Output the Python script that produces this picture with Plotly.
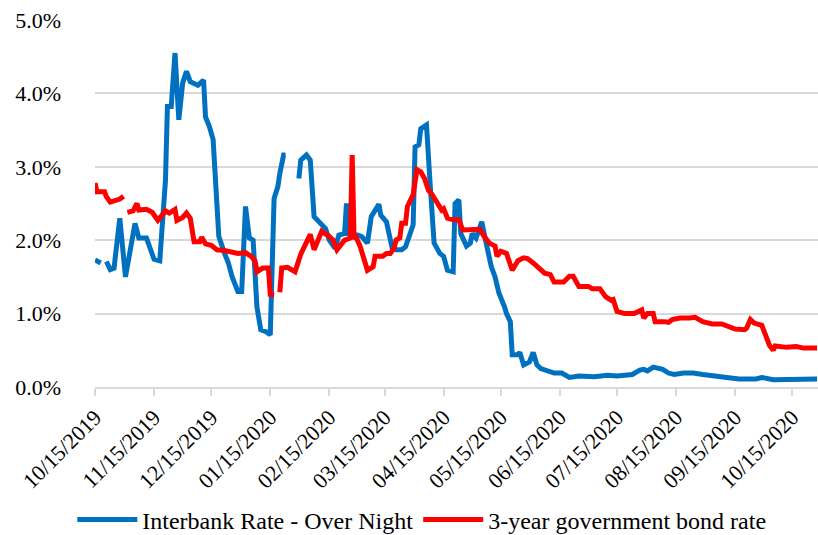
import plotly.graph_objects as go

interbank_dates = [
    "2019-10-15", "2019-10-18", "2019-10-20", "2019-10-21", "2019-10-23", "2019-10-25", "2019-10-28",
    "2019-10-31", "2019-11-02", "2019-11-05", "2019-11-07", "2019-11-11", "2019-11-15", "2019-11-18",
    "2019-11-21", "2019-11-22", "2019-11-24", "2019-11-26", "2019-11-28", "2019-11-30", "2019-12-02",
    "2019-12-04", "2019-12-08", "2019-12-11", "2019-12-12", "2019-12-14", "2019-12-16", "2019-12-19",
    "2019-12-22", "2019-12-24", "2019-12-26", "2019-12-29", "2019-12-31", "2020-01-02", "2020-01-04",
    "2020-01-06", "2020-01-08", "2020-01-10", "2020-01-13", "2020-01-15", "2020-01-17", "2020-01-19",
    "2020-01-20", "2020-01-22", "2020-01-23", "2020-01-26", "2020-01-30", "2020-01-31", "2020-02-03",
    "2020-02-05", "2020-02-07", "2020-02-11", "2020-02-13", "2020-02-15", "2020-02-18", "2020-02-20",
    "2020-02-23", "2020-02-24", "2020-02-25", "2020-03-01", "2020-03-03", "2020-03-06", "2020-03-08",
    "2020-03-12", "2020-03-13", "2020-03-16", "2020-03-19", "2020-03-21", "2020-03-24", "2020-03-26",
    "2020-03-28", "2020-03-30", "2020-03-31", "2020-04-02", "2020-04-03", "2020-04-06", "2020-04-08",
    "2020-04-10", "2020-04-13", "2020-04-15", "2020-04-17", "2020-04-20", "2020-04-21", "2020-04-23",
    "2020-04-24", "2020-04-27", "2020-04-29", "2020-04-30", "2020-05-02", "2020-05-05", "2020-05-07",
    "2020-05-10", "2020-05-12", "2020-05-14", "2020-05-17", "2020-05-18", "2020-05-20", "2020-05-21",
    "2020-05-24", "2020-05-25", "2020-05-27", "2020-05-30", "2020-06-01", "2020-06-03", "2020-06-05",
    "2020-06-08", "2020-06-12", "2020-06-16", "2020-06-20", "2020-06-25", "2020-06-28", "2020-07-03",
    "2020-07-10", "2020-07-15", "2020-07-23", "2020-07-27", "2020-07-29", "2020-07-31", "2020-08-03",
    "2020-08-08", "2020-08-11", "2020-08-14", "2020-08-19", "2020-08-24", "2020-08-29", "2020-09-05",
    "2020-09-14", "2020-09-17", "2020-09-26", "2020-09-29", "2020-10-05", "2020-10-14", "2020-10-21",
    "2020-10-28",
]
interbank_values = [
    1.73, 1.69, None, 1.71, 1.60, 1.62, 2.30,
    1.50, 1.78, 2.23, 2.03, 2.03, 1.74, 1.72,
    2.82, 3.82, 3.82, 4.55, 3.64, 4.14, 4.30,
    4.16, 4.11, 4.18, 3.68, 3.55, 3.37, 2.05,
    1.82, 1.69, 1.50, 1.30, 1.30, 2.46, 2.03,
    2.00, 1.09, 0.78, 0.75, 0.71, 2.57, 2.73,
    2.91, 3.16, 3.16, None, 2.84, 3.09, 3.16,
    3.09, 2.32, 2.21, 2.16, 2.00, 1.89, 2.07,
    2.09, 2.50, 2.09, 2.07, 2.05, 1.96, 2.32,
    2.49, 2.34, 2.25, 1.89, 1.87, 1.87, 1.91,
    2.09, 2.21, 3.27, 3.30, 3.52, 3.57, 2.73,
    1.96, 1.82, 1.78, 1.59, 1.57, 2.50, 2.55,
    2.09, 1.92, 1.96, 2.09, 2.03, 2.25, 2.00,
    1.64, 1.50, 1.28, 1.09, 1.00, 0.89, 0.44,
    0.44, 0.47, 0.30, 0.34, 0.47, 0.30, 0.25,
    0.23, 0.19, 0.19, 0.13, 0.15, 0.14, 0.14,
    0.16, 0.15, 0.17, 0.23, 0.24, 0.22, 0.27,
    0.24, 0.19, 0.17, 0.19, 0.19, 0.17, 0.15,
    0.13, 0.11, 0.11, 0.13, 0.10, 0.10, 0.10,
    0.11,
]

bond_dates = [
    "2019-10-15", "2019-10-16", "2019-10-20", "2019-10-21", "2019-10-23", "2019-10-26", "2019-10-28",
    "2019-10-30", "2019-10-31", "2019-11-01", "2019-11-04", "2019-11-06", "2019-11-07", "2019-11-11",
    "2019-11-14", "2019-11-17", "2019-11-21", "2019-11-23", "2019-11-26", "2019-11-27", "2019-11-30",
    "2019-12-02", "2019-12-04", "2019-12-06", "2019-12-09", "2019-12-10", "2019-12-12", "2019-12-15",
    "2019-12-18", "2019-12-22", "2019-12-26", "2019-12-29", "2020-01-02", "2020-01-05", "2020-01-07",
    "2020-01-08", "2020-01-11", "2020-01-14", "2020-01-15", "2020-01-17", "2020-01-18", "2020-01-20",
    "2020-01-21", "2020-01-24", "2020-01-28", "2020-01-31", "2020-02-03", "2020-02-05", "2020-02-07",
    "2020-02-09", "2020-02-11", "2020-02-15", "2020-02-17", "2020-02-19", "2020-02-21", "2020-02-23",
    "2020-02-26", "2020-02-27", "2020-02-28", "2020-02-29", "2020-03-02", "2020-03-04", "2020-03-06",
    "2020-03-09", "2020-03-10", "2020-03-14", "2020-03-16", "2020-03-18", "2020-03-20", "2020-03-21",
    "2020-03-23", "2020-03-24", "2020-03-26", "2020-03-27", "2020-03-29", "2020-03-30", "2020-04-01",
    "2020-04-03", "2020-04-05", "2020-04-07", "2020-04-09", "2020-04-12", "2020-04-14", "2020-04-15",
    "2020-04-17", "2020-04-20", "2020-04-23", "2020-04-25", "2020-04-27", "2020-05-01", "2020-05-04",
    "2020-05-06", "2020-05-09", "2020-05-12", "2020-05-13", "2020-05-15", "2020-05-18", "2020-05-21",
    "2020-05-24", "2020-05-27", "2020-05-29", "2020-06-01", "2020-06-05", "2020-06-07", "2020-06-10",
    "2020-06-12", "2020-06-17", "2020-06-20", "2020-06-22", "2020-06-24", "2020-06-25", "2020-06-30",
    "2020-07-02", "2020-07-06", "2020-07-09", "2020-07-12", "2020-07-13", "2020-07-15", "2020-07-19",
    "2020-07-24", "2020-07-28", "2020-07-29", "2020-07-31", "2020-08-03", "2020-08-04", "2020-08-09",
    "2020-08-11", "2020-08-13", "2020-08-17", "2020-08-22", "2020-08-25", "2020-08-29", "2020-09-03",
    "2020-09-08", "2020-09-12", "2020-09-15", "2020-09-20", "2020-09-21", "2020-09-23", "2020-09-25",
    "2020-09-29", "2020-10-01", "2020-10-03", "2020-10-05", "2020-10-06", "2020-10-12", "2020-10-17",
    "2020-10-21", "2020-10-28",
]
bond_values = [
    2.78, 2.66, 2.66, 2.59, 2.52, 2.55, 2.56,
    2.60, None, 2.38, 2.40, 2.50, 2.41, 2.42,
    2.38, 2.27, 2.40, 2.37, 2.42, 2.27, 2.31,
    2.37, 2.30, 1.98, 1.98, 2.04, 1.95, 1.93,
    1.87, 1.86, 1.83, 1.82, 1.83, 1.78, 1.72,
    1.57, 1.62, 1.62, 1.26, 1.25, None, 1.29,
    1.62, 1.63, 1.57, 1.81, 1.96, 2.08, 1.87,
    2.02, 2.12, 2.05, 2.00, 1.87, 1.95, 2.00,
    2.03, 3.16, 2.02, 2.04, 1.93, 1.78, 1.59,
    1.64, 1.78, 1.78, 1.82, 1.82, 1.89, 2.00,
    2.03, 2.23, 2.23, 2.46, 2.59, 2.62, 2.96,
    2.93, 2.84, 2.68, 2.62, 2.48, 2.41, 2.43,
    2.30, 2.28, 2.28, 2.14, 2.14, 2.15, 2.15,
    2.06, 1.96, 1.92, 1.78, 1.85, 1.82, 1.59,
    1.72, 1.76, 1.75, 1.69, 1.59, 1.55, 1.53,
    1.43, 1.43, 1.51, 1.51, 1.39, 1.37, 1.37,
    1.34, 1.34, 1.23, 1.18, 1.19, 1.03, 1.00,
    1.00, 1.05, 0.94, 1.00, 1.00, 0.89, 0.89,
    0.88, 0.92, 0.94, 0.94, 0.95, 0.89, 0.86,
    0.86, 0.81, 0.79, 0.78, 0.80, 0.92, 0.87,
    0.84, 0.71, 0.57, 0.50, 0.56, 0.54, 0.55,
    0.53, 0.53,
]

series_names = ["Interbank Rate - Over Night", "3-year government bond rate"]
series_colors = ["#0070C0", "#FF0000"]

to_frac = lambda vals: [None if v is None else v / 100 for v in vals]

FONT = "Liberation Serif"

fig = go.Figure()
fig.add_trace(go.Scatter(
    x=interbank_dates, y=to_frac(interbank_values), mode="lines", name=series_names[0],
    line=dict(color=series_colors[0], width=5), connectgaps=False,
))
fig.add_trace(go.Scatter(
    x=bond_dates, y=to_frac(bond_values), mode="lines", name=series_names[1],
    line=dict(color=series_colors[1], width=5), connectgaps=False,
))

fig.update_layout(
    width=818, height=535,
    margin=dict(l=95, r=0, t=20, b=148, autoexpand=False),
    paper_bgcolor="white", plot_bgcolor="white",
    showlegend=True,
    legend=dict(orientation="h", x=0.452, xanchor="center", y=-0.362, yanchor="middle",
                font=dict(family=FONT, size=24, color="black"), itemwidth=60, tracegroupgap=0),
)
fig.update_xaxes(
    type="date", range=["2019-10-15", "2020-10-28 12:00"], automargin=False,
    tick0="2019-10-15", dtick="M1", tickformat="%m/%d/%Y", tickangle=-45,
    tickfont=dict(family=FONT, size=22, color="black"),
    showgrid=False, showline=True, linecolor="#d9d9d9", linewidth=1.5,
    ticks="outside", ticklen=7, tickcolor="#d9d9d9", tickwidth=1.5,
    zeroline=False,
)
fig.update_yaxes(
    range=[0, 0.05], tick0=0, dtick=0.01, tickformat=".1%", automargin=False,
    tickfont=dict(family=FONT, size=22, color="black"),
    showgrid=True, gridcolor="#d9d9d9", gridwidth=1.5,
    zeroline=False, showline=False, ticks="", ticklabelstandoff=33,
)

fig.write_html(
    "out.html",
    config={"displayModeBar": False},
    post_script="document.body.style.margin='0';document.body.style.overflow='hidden';",
)
